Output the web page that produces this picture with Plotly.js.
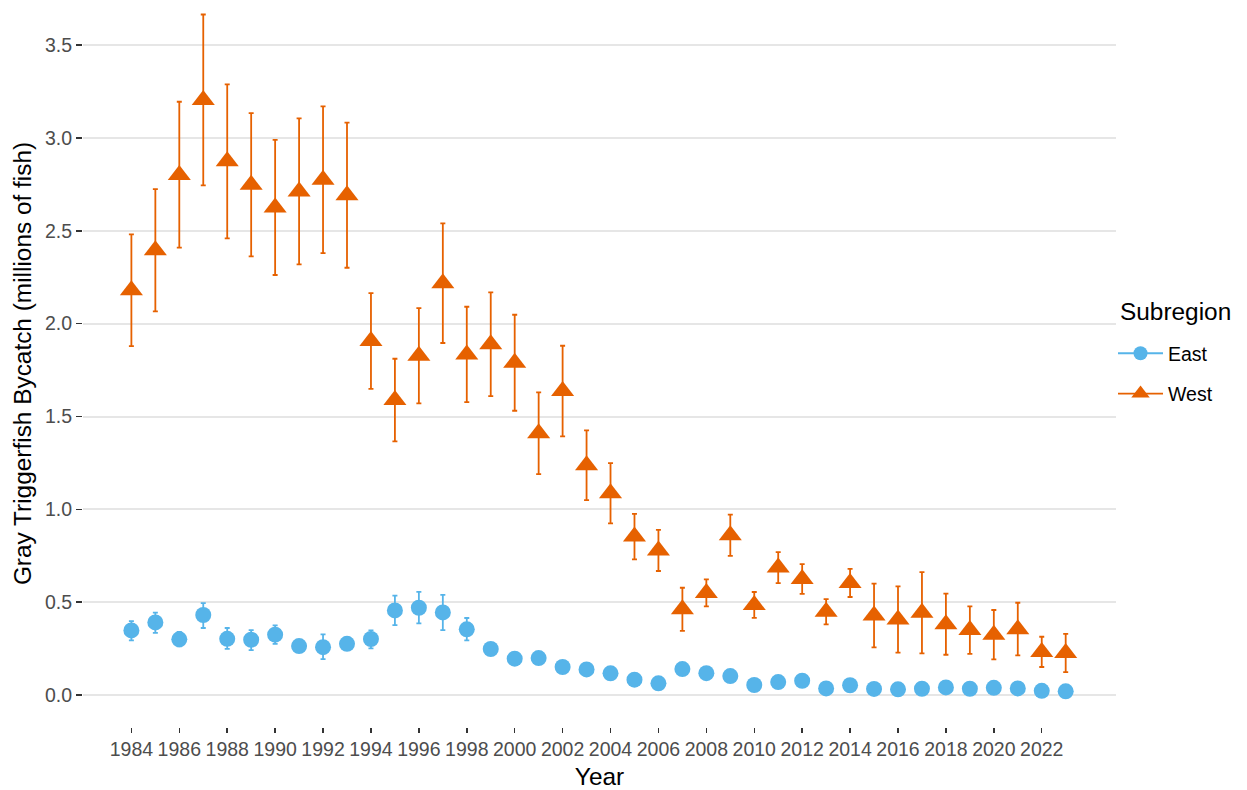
<!DOCTYPE html>
<html>
<head>
<meta charset="utf-8">
<script src="https://cdn.plot.ly/plotly-3.0.1.min.js"></script>
<style>html,body{margin:0;padding:0;background:#fff;}#chart{width:1247px;height:790px;}</style>
</head>
<body>
<div id="chart"></div>
<script>
const years = [1984,1985,1986,1987,1988,1989,1990,1991,1992,1993,1994,1995,1996,1997,1998,1999,2000,2001,2002,2003,2004,2005,2006,2007,2008,2009,2010,2011,2012,2013,2014,2015,2016,2017,2018,2019,2020,2021,2022,2023];

const westValue = [2.180,2.395,2.800,3.205,2.874,2.748,2.626,2.712,2.775,2.692,1.907,1.589,1.827,2.218,1.834,1.889,1.789,1.410,1.637,1.238,1.087,0.854,0.779,0.462,0.550,0.861,0.485,0.687,0.625,0.449,0.604,0.428,0.407,0.443,0.381,0.350,0.325,0.355,0.232,0.227];
const westUpper = [2.481,2.725,3.195,3.665,3.289,3.134,2.990,3.105,3.170,3.083,2.165,1.811,2.084,2.540,2.091,2.168,2.048,1.630,1.881,1.425,1.249,0.976,0.890,0.578,0.623,0.972,0.555,0.770,0.705,0.517,0.680,0.600,0.585,0.662,0.546,0.478,0.458,0.497,0.314,0.330];
const westLower = [1.879,2.066,2.410,2.745,2.459,2.362,2.262,2.319,2.380,2.301,1.649,1.366,1.571,1.896,1.578,1.610,1.531,1.190,1.393,1.050,0.925,0.731,0.668,0.346,0.478,0.750,0.416,0.603,0.545,0.381,0.528,0.257,0.228,0.224,0.217,0.222,0.192,0.214,0.151,0.124];

const eastValue = [0.348,0.391,0.300,0.431,0.303,0.298,0.325,0.264,0.258,0.276,0.302,0.456,0.470,0.445,0.354,0.248,0.196,0.199,0.151,0.138,0.117,0.083,0.063,0.140,0.118,0.102,0.054,0.070,0.077,0.036,0.053,0.033,0.031,0.034,0.041,0.034,0.039,0.036,0.023,0.020];
const eastUpper = [0.398,0.444,0.340,0.495,0.361,0.350,0.375,0.295,0.327,0.305,0.348,0.535,0.556,0.540,0.415,0.275,0.218,0.222,0.170,0.156,0.132,0.095,0.074,0.160,0.135,0.118,0.064,0.082,0.090,0.043,0.063,0.040,0.038,0.042,0.050,0.041,0.047,0.044,0.029,0.026];
const eastLower = [0.295,0.335,0.262,0.361,0.249,0.242,0.276,0.235,0.194,0.248,0.251,0.377,0.386,0.350,0.295,0.222,0.176,0.177,0.133,0.121,0.102,0.071,0.052,0.121,0.102,0.087,0.045,0.059,0.065,0.029,0.044,0.026,0.024,0.027,0.033,0.027,0.031,0.029,0.018,0.015];

const xTickVals = [1984,1986,1988,1990,1992,1994,1996,1998,2000,2002,2004,2006,2008,2010,2012,2014,2016,2018,2020,2022];
const yTickVals = [0,0.5,1,1.5,2,2.5,3,3.5];
const seriesNames = ['East','West'];
const legendTitle = 'Subregion';

const EAST = '#56B4E9', WEST = '#E66100';
const FONT = 'Liberation Sans, Arial, sans-serif';

function diff(a,b){ return a.map((v,i)=>v-b[i]); }

const traces = [
  {x: years, y: eastValue, type:'scatter', mode:'markers', name: seriesNames[0], showlegend:false,
   marker:{color:EAST, size:16, symbol:'circle'},
   error_y:{type:'data', symmetric:false, array: diff(eastUpper,eastValue), arrayminus: diff(eastValue,eastLower), color:EAST, thickness:1.8, width:2.5}},
  {x: years, y: westValue, type:'scatter', mode:'markers', name: seriesNames[1], showlegend:false,
   marker:{color:WEST, size:20, symbol:'triangle-up'},
   error_y:{type:'data', symmetric:false, array: diff(westUpper,westValue), arrayminus: diff(westValue,westLower), color:WEST, thickness:1.8, width:2.5}},
  {x:[null], y:[null], type:'scatter', mode:'lines+markers', name: seriesNames[0], legendgroup:'a',
   line:{color:EAST, width:1.8}, marker:{color:EAST, size:14, symbol:'circle'}},
  {x:[null], y:[null], type:'scatter', mode:'lines+markers', name: seriesNames[1], legendgroup:'b',
   line:{color:WEST, width:1.8}, marker:{color:WEST, size:17, symbol:'triangle-up'}}
];

const shapes = xTickVals.map(v => ({type:'line', xref:'x', yref:'paper', x0:v, x1:v, y0:0, y1:1,
  line:{color:'#ffffff', width:2.5}, layer:'between'}));

const layout = {
  width:1247, height:790,
  margin:{l:83, r:131, t:0, b:63},
  paper_bgcolor:'#ffffff', plot_bgcolor:'#ffffff',
  font:{family:FONT, color:'#000000'},
  showlegend:true,
  xaxis:{range:[1981.98, 2025.1], tickvals:xTickVals, ticktext:xTickVals.map(String),
    showgrid:false, zeroline:false, showline:false,
    ticks:'outside', ticklen:5, tickwidth:1.5, tickcolor:'#333333',
    tickfont:{family:FONT, size:19.5, color:'#4D4D4D'},
    title:{text:'Year', font:{family:FONT, size:24.4, color:'#000000'}, standoff:10}},
  yaxis:{range:[-0.172, 3.743], tickvals:yTickVals, tickformat:'.1f',
    showgrid:true, gridcolor:'#E6E6E6', gridwidth:2, zeroline:false, showline:false,
    ticks:'outside', ticklen:6, tickwidth:1.5, tickcolor:'#333333',
    tickfont:{family:FONT, size:19.5, color:'#4D4D4D'},
    title:{text:'Gray Triggerfish Bycatch (millions of fish)', font:{family:FONT, size:24.4, color:'#000000'}, standoff:6}},
  legend:{x:0.9971, xanchor:'left', y:0.5405, yanchor:'top', bgcolor:'rgba(0,0,0,0)',
    font:{family:FONT, size:19.5, color:'#000000'}, tracegroupgap:12, itemsizing:'trace', itemwidth:45},
  annotations:[{text:legendTitle, xref:'paper', yref:'paper', x:1.0019, y:0.572, xanchor:'left', yanchor:'middle',
    showarrow:false, font:{family:FONT, size:24.4, color:'#000000'}}],
  shapes: shapes
};

Plotly.newPlot('chart', traces, layout, {displayModeBar:false, staticPlot:true});
</script>
</body>
</html>
